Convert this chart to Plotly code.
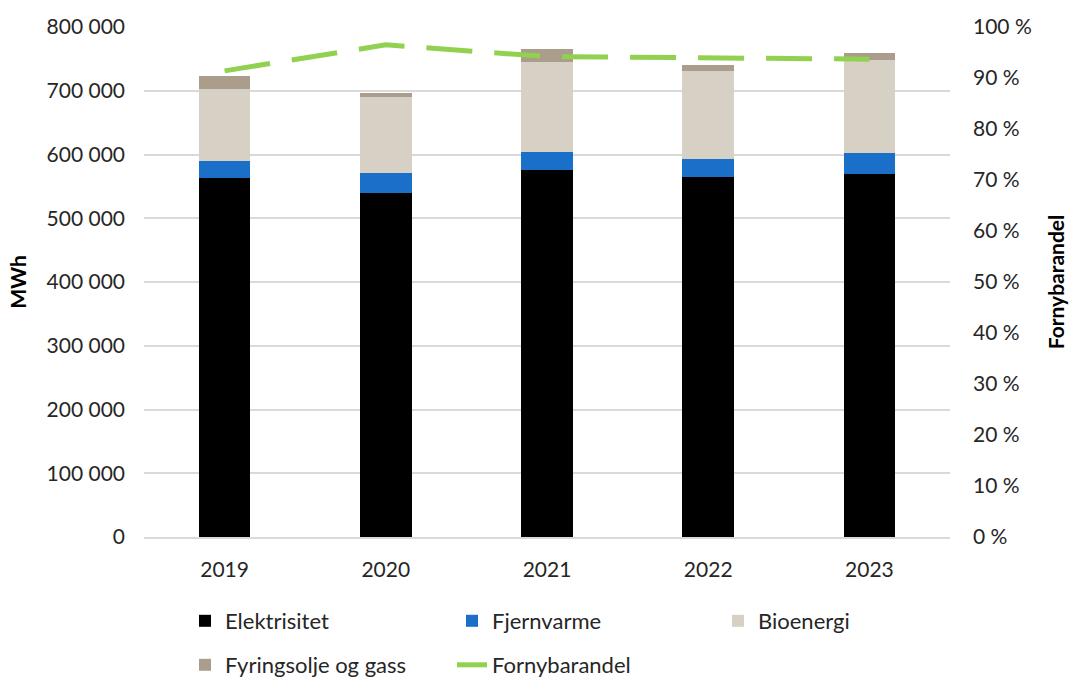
import plotly.graph_objects as go

years = ["2019", "2020", "2021", "2022", "2023"]

# Energy use by carrier, MWh
elektrisitet = [563000, 540000, 576000, 564000, 570000]
fjernvarme = [27000, 30500, 28000, 28500, 32000]
bioenergi = [112500, 120000, 140500, 138500, 147000]
fyringsolje_gass = [20500, 6500, 20500, 10000, 9700]

# Renewable share, percent
fornybarandel = [91.4, 96.5, 94.2, 93.9, 93.7]

FONT = "Lato"
TXT = "#262626"
W, H = 1070, 677
ML, MR, MT, MB = 144, 120, 27, 140
PW, PH = W - ML - MR, H - MT - MB

fig = go.Figure()

# each legend entry gets its own legend box so the two-row grid can be laid out freely
bar_series = [
    ("Elektrisitet", elektrisitet, "#000000", "legend2"),
    ("Fjernvarme", fjernvarme, "#1a70c8", "legend3"),
    ("Bioenergi", bioenergi, "#d6d1c4", "legend4"),
    ("Fyringsolje og gass", fyringsolje_gass, "#ab9d8b", "legend5"),
]
for name, vals, col, lg in bar_series:
    fig.add_trace(go.Bar(
        x=years, y=vals, name=name, legend=lg,
        marker=dict(color=col, line=dict(width=0)),
        width=0.32,
    ))

fig.add_trace(go.Scatter(
    x=years, y=fornybarandel, name="Fornybarandel", legend="legend6",
    mode="lines", yaxis="y2",
    line=dict(color="#92d050", width=5, dash="46px,22px"),
))


def legend_box(px, py):
    return dict(
        xref="paper", yref="paper",
        x=(px - ML) / PW, xanchor="left", y=(H - MB - py) / PH, yanchor="middle",
        font=dict(size=22, color=TXT), bgcolor="rgba(0,0,0,0)",
        itemwidth=30,
    )


row1, row2 = 621, 665
col1, col2, col3 = 185, 452, 718

fig.update_layout(
    width=W, height=H,
    barmode="stack",
    plot_bgcolor="white", paper_bgcolor="white",
    margin=dict(l=ML, r=MR, t=MT, b=MB, autoexpand=False),
    font=dict(family=FONT, size=21, color=TXT),
    separators=", ",
    xaxis=dict(
        showgrid=False, showline=True, linecolor="#d9d9d9", linewidth=1.5,
        ticks="", tickfont=dict(size=21, color=TXT), ticklabelstandoff=13,
    ),
    yaxis=dict(
        range=[0, 800000], dtick=100000, tickformat=",d",
        showgrid=True, gridcolor="#d9d9d9", gridwidth=1.5,
        zeroline=False, showline=False, ticks="", ticklabelstandoff=18,
        title=dict(text="<b>MWh</b>", font=dict(size=21, color="#000000"), standoff=14),
        tickfont=dict(size=21, color=TXT),
    ),
    yaxis2=dict(
        range=[0, 100], dtick=10, ticksuffix=" %",
        overlaying="y", side="right", showgrid=False, zeroline=False,
        showline=False, ticks="", ticklabelstandoff=22,
        title=dict(text="<b>Fornybarandel</b>", font=dict(size=21, color="#000000"), standoff=18),
        tickfont=dict(size=21, color=TXT),
    ),
    showlegend=True,
    legend2=legend_box(col1, row1),
    legend3=legend_box(col2, row1),
    legend4=legend_box(col3, row1),
    legend5=legend_box(col1, row2),
    legend6=legend_box(col2, row2),
    bargap=0.68,
)

fig.write_html("out.html")
